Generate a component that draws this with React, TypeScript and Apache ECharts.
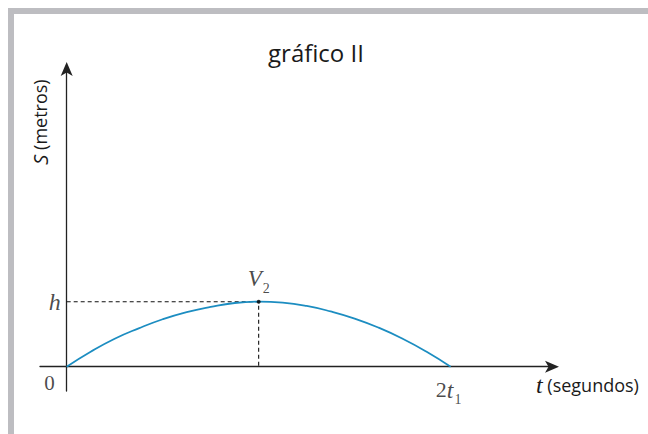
import React, { useEffect, useRef } from "react";
import * as echarts from "echarts";

// Data (t in units of t1, S in units of h)
const tValues = [0, 0.125, 0.25, 0.375, 0.5, 0.625, 0.75, 0.875, 1, 1.125, 1.25, 1.375, 1.5, 1.625, 1.75, 1.875, 2];
const sValues = [0, 0.23, 0.43, 0.59, 0.73, 0.84, 0.92, 0.98, 1, 0.985, 0.935, 0.85, 0.74, 0.6, 0.43, 0.23, 0];
const vertex = [1, 1];
const guideX = [0, 1, 1];
const guideY = [1, 1, 0];
const titleText = "gráfico II";
const xAxisUnit = "(segundos)";
const yAxisUnit = "(metros)";

const SERIF = "'Liberation Serif', 'DejaVu Serif', serif";
const SANS = "'Open Sans', Lato, sans-serif";

export default function App() {
  const ref = useRef<HTMLDivElement>(null);
  useEffect(() => {
    if (!ref.current) return;
    const chart = echarts.init(ref.current, null, { renderer: "svg" });
    const curve = tValues.map((t, i) => [t, sValues[i]]);
    const guide = guideX.map((x, i) => [x, guideY[i]]);
    chart.setOption({
      animation: false,
      backgroundColor: "#ffffff",
      title: {
        text: titleText,
        left: 311,
        top: 35,
        textAlign: "center",
        textStyle: { fontFamily: SANS, fontWeight: "normal", fontSize: 24, color: "#1a1a1a" },
      },
      grid: { left: 40, right: 96, top: 69, bottom: 43, containLabel: false },
      xAxis: {
        type: "value",
        min: -0.139,
        max: 2.528,
        axisLine: {
          onZero: true,
          lineStyle: { color: "#222", width: 1.3 },
          symbol: ["none", "arrow"],
          symbolSize: [9, 14],
          symbolOffset: [0, 7],
        },
        axisTick: { show: false },
        axisLabel: { show: false },
        splitLine: { show: false },
      },
      yAxis: {
        type: "value",
        min: -0.374,
        max: 4.58,
        axisLine: {
          onZero: true,
          lineStyle: { color: "#222", width: 1.3 },
          symbol: ["none", "arrow"],
          symbolSize: [9, 14],
          symbolOffset: [0, 7],
        },
        axisTick: { show: false },
        axisLabel: { show: false },
        splitLine: { show: false },
      },
      graphic: [
        {
          type: "rect",
          shape: { x: 8, y: 8, width: 640, height: 6 },
          style: { fill: "#bdbdc1" },
        },
        {
          type: "rect",
          shape: { x: 8, y: 8, width: 6, height: 426 },
          style: { fill: "#bdbdc1" },
        },
        {
          type: "text",
          x: 536,
          y: 385,
          style: {
            text: "{i|t}{u| " + xAxisUnit + "}",
            verticalAlign: "middle",
            rich: {
              i: { fontFamily: SERIF, fontStyle: "italic", fontSize: 24, fill: "#1a1a1a" },
              u: { fontFamily: SANS, fontSize: 18, fill: "#1a1a1a" },
            },
          },
        },
        {
          type: "text",
          x: 40,
          y: 122,
          rotation: Math.PI / 2,
          style: {
            text: "{i|S}{u| " + yAxisUnit + "}",
            align: "center",
            verticalAlign: "middle",
            rich: {
              i: { fontFamily: SANS, fontStyle: "italic", fontSize: 20, fill: "#1a1a1a" },
              u: { fontFamily: SANS, fontSize: 18, fill: "#1a1a1a" },
            },
          },
        },
      ],
      series: [
        {
          type: "line",
          data: curve,
          smooth: true,
          showSymbol: false,
          symbol: "none",
          lineStyle: { color: "#1c8dc1", width: 1.8 },
          z: 3,
        },
        {
          type: "line",
          data: guide,
          showSymbol: false,
          symbol: "none",
          lineStyle: { color: "#111", width: 1.1, type: [4, 3] },
          z: 2,
        },
        {
          type: "scatter",
          data: [vertex],
          symbolSize: 4,
          itemStyle: { color: "#000" },
          z: 4,
          label: {
            show: true,
            position: "top",
            distance: 4,
            formatter: "{v|V}{s|2}",
            rich: {
              v: { fontFamily: SERIF, fontStyle: "italic", fontSize: 23, color: "#1a1a1a" },
              s: { fontFamily: SERIF, fontSize: 14, color: "#1a1a1a", padding: [20, 0, 0, 1] },
            },
          },
        },
        {
          type: "scatter",
          data: [[0, 1]],
          symbolSize: 0,
          itemStyle: { color: "transparent" },
          label: {
            show: true,
            position: "left",
            distance: 6,
            formatter: "h",
            fontFamily: SERIF,
            fontStyle: "italic",
            fontSize: 24,
            color: "#1a1a1a",
          },
        },
        {
          type: "scatter",
          data: [[0, 0]],
          symbolSize: 0,
          itemStyle: { color: "transparent" },
          label: {
            show: true,
            position: "left",
            offset: [-2, 16],
            distance: 10,
            formatter: "0",
            fontFamily: SERIF,
            fontSize: 21,
            color: "#1a1a1a",
          },
        },
        {
          type: "scatter",
          data: [[2, 0]],
          symbolSize: 0,
          itemStyle: { color: "transparent" },
          label: {
            show: true,
            position: "bottom",
            distance: 6,
            offset: [-2, 0],
            formatter: "{n|2}{i|t}{s|1}",
            rich: {
              n: { fontFamily: SERIF, fontSize: 22, color: "#1a1a1a" },
              i: { fontFamily: SERIF, fontStyle: "italic", fontSize: 24, color: "#1a1a1a" },
              s: { fontFamily: SERIF, fontSize: 14, color: "#1a1a1a", padding: [20, 0, 0, 1] },
            },
          },
        },
      ],
    });
    return () => chart.dispose();
  }, []);
  return (
    <div
      ref={ref}
      style={{ position: "fixed", left: 0, top: 0, width: 648, height: 434 }}
    />
  );
}
